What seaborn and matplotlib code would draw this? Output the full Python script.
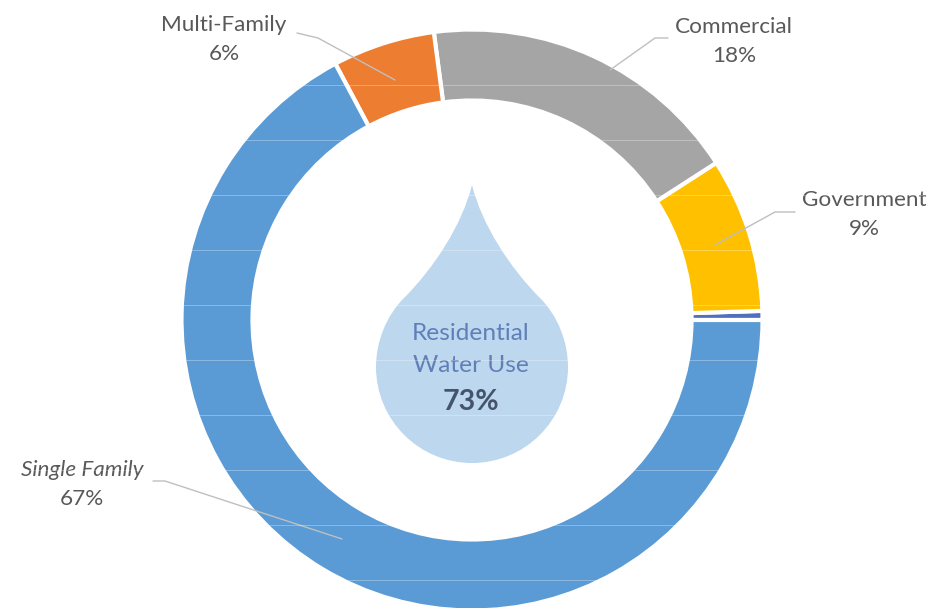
import matplotlib
matplotlib.use('Agg')
import matplotlib.pyplot as plt
from matplotlib.patches import PathPatch
from matplotlib.path import Path
import seaborn as sns

# Shares going counter-clockwise from 3 o'clock
categories = ['Other', 'Government', 'Commercial', 'Multi-Family', 'Single Family']
shares = [0.5, 8.6, 18, 5.7, 67.2]
colors = ['#4F6FBF', '#FFC000', '#A5A5A5', '#ED7D31', '#5B9BD5']
label_names = ['Government', 'Commercial', 'Multi-Family', 'Single Family']
label_pcts = ['9%', '18%', '6%', '67%']

sns.set_theme(style='white')
plt.rcParams['font.family'] = ['Lato', 'DejaVu Sans']

W, H = 949, 608
fig = plt.figure(figsize=(W / 100, H / 100), dpi=100)
ax = fig.add_axes([0, 0, 1, 1])


# picture y runs downwards, axes y upwards
def py(y):
    return H - y


ax.pie(shares, colors=colors, startangle=0, counterclock=True,
       center=(472, py(320)), radius=290.5, frame=True,
       wedgeprops=dict(width=71, edgecolor='white', linewidth=3))
ax.set_xlim(0, W)
ax.set_ylim(0, H)
ax.set_aspect('equal')
ax.axis('off')

# water drop
verts = [(472, 185),
         (482, 225), (510, 268), (540, 298),
         (558, 316), (568, 342), (568, 367),
         (568, 420), (525, 463), (472, 463),
         (419, 463), (376, 420), (376, 367),
         (376, 342), (386, 316), (404, 298),
         (434, 268), (462, 225), (472, 185)]
codes = [Path.MOVETO] + [Path.CURVE4] * 18
ax.add_patch(PathPatch(Path([(x, py(y)) for x, y in verts], codes),
                       facecolor='#BDD7EE', edgecolor='none', zorder=3))
ax.text(471, py(334), 'Residential', ha='center', va='center', fontsize=17.6, color='#5F7FB8', zorder=4)
ax.text(471, py(366), 'Water Use', ha='center', va='center', fontsize=17.6, color='#5F7FB8', zorder=4)
ax.text(471, py(402), '73%', ha='center', va='center', fontsize=20.5, fontweight='bold', color='#44546A', zorder=4)

# labels, name on top and share below
label_pos = [(864, 200), (734, 27), (224, 25), (82, 470)]
for name, pct, (x, y) in zip(label_names, label_pcts, label_pos):
    ax.text(x, py(y), name, ha='center', va='center', fontsize=16.2, color='#595959', zorder=4,
            style='italic' if name == 'Single Family' else 'normal')
    ax.text(x, py(y + 29), pct, ha='center', va='center', fontsize=16.2, color='#595959', zorder=4)

# leader lines
leaders = [[(795, 212), (775, 212), (715, 245)],
           [(668, 38), (655, 38), (610, 70)],
           [(297, 33), (318, 38), (395, 80)],
           [(153, 481), (165, 481), (342, 539)]]
for pts in leaders:
    ax.plot([p[0] for p in pts], [py(p[1]) for p in pts], color='#BFBFBF', lw=1, zorder=4)

# faint scan lines running over the picture
for y in [85, 140, 195, 250, 305, 360, 415, 470, 525, 580]:
    ax.axhline(py(y), color='white', lw=0.7, alpha=0.3, zorder=5)

fig.savefig('out.png', dpi=100)
